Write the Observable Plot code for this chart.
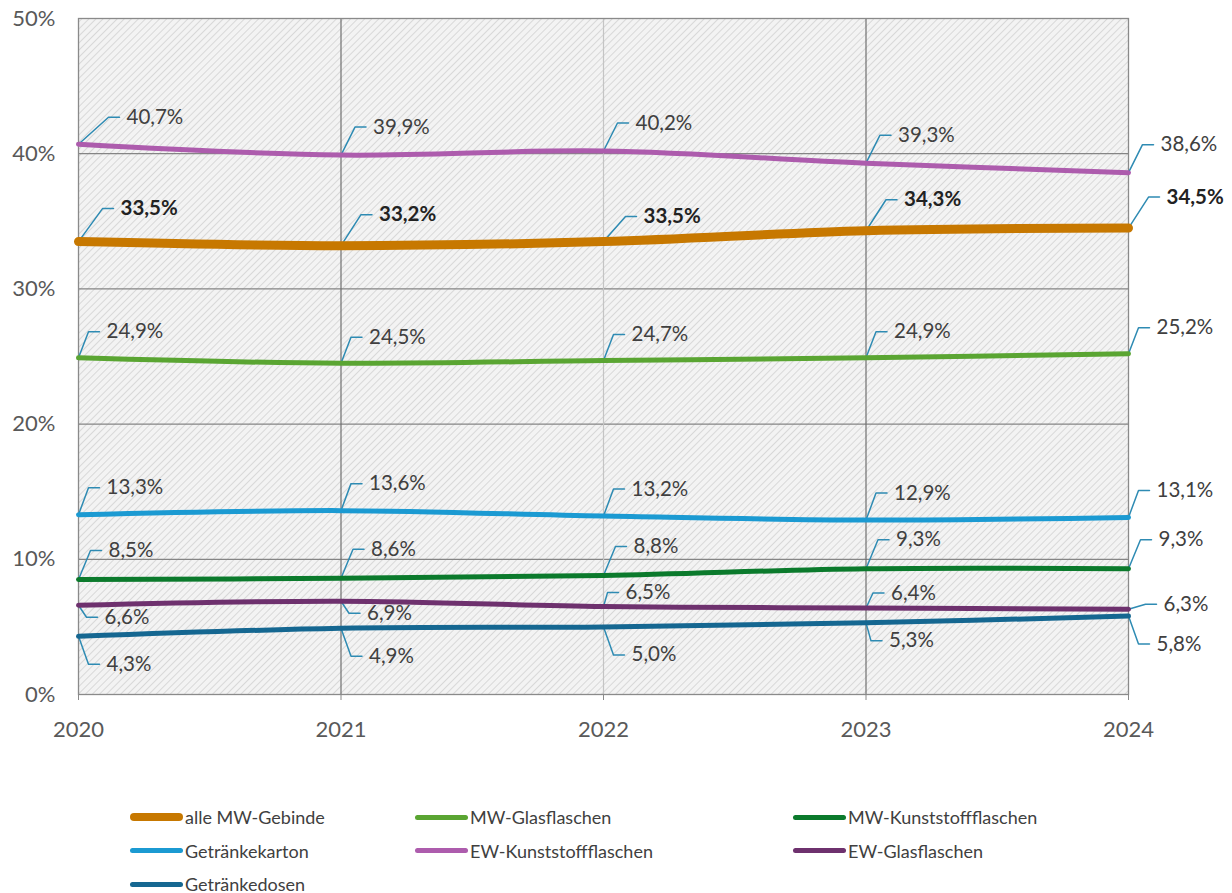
<!DOCTYPE html>
<html>
<head>
<meta charset="utf-8">
<script src="https://cdn.jsdelivr.net/npm/d3@7"></script>
<script src="https://cdn.jsdelivr.net/npm/@observablehq/plot@0.6"></script>
<style>
  body { margin: 0; background: #fff; font-family: Lato, sans-serif; }
  #wrap { position: relative; width: 1232px; height: 893px; }
  #legend { position: absolute; left: 0; top: 806px; width: 1232px; }
  .row { position: absolute; display: flex; align-items: center; font-size: 18px; color: #404040; }
  .sw { display: inline-block; width: 53px; border-radius: 4px; margin-right: 2px; }
</style>
</head>
<body>
<div id="wrap"><div id="chart"></div><div id="legend"></div></div>
<script>
const years = [2020, 2021, 2022, 2023, 2024];
const seriesNames = ["alle MW-Gebinde", "MW-Glasflaschen", "MW-Kunststoffflaschen", "Getränkekarton", "EW-Kunststoffflaschen", "EW-Glasflaschen", "Getränkedosen"];
const alleMW = [33.5, 33.2, 33.5, 34.3, 34.5];
const mwGlas = [24.9, 24.5, 24.7, 24.9, 25.2];
const mwKunststoff = [8.5, 8.6, 8.8, 9.3, 9.3];
const getraenkekarton = [13.3, 13.6, 13.2, 12.9, 13.1];
const ewKunststoff = [40.7, 39.9, 40.2, 39.3, 38.6];
const ewGlas = [6.6, 6.9, 6.5, 6.4, 6.3];
const getraenkedosen = [4.3, 4.9, 5.0, 5.3, 5.8];
const yTicks = [0, 10, 20, 30, 40, 50];

const seriesValues = [alleMW, mwGlas, mwKunststoff, getraenkekarton, ewKunststoff, ewGlas, getraenkedosen];
const colors = ["#C77800", "#5AA532", "#0B7A2C", "#1B9AD2", "#AD5CAD", "#6E316E", "#156791"];
const widths = [9, 5, 5, 5, 5, 5, 5];
const drawOrder = [4, 0, 1, 3, 2, 5, 6];

// label leader elbows in pixels (dx right, dy down)
const leaderDefault = [[20, -31], [10, -26], [12, -29], [10, -27], [14, -28], [8, 12], [10, 28]];
const leaderOverride = {
  "4|2020": [30, -27], "0|2020": [24, -33], "0|2022": [22, -25],
  "5|2022": [4, -14], "5|2023": [7, -15], "5|2024": [17, -5],
  "6|2023": [5, 18]
};

const W = 1232, H = 770, mL = 78, mR = 104, mT = 18, mB = 76;
const pxX = (W - mL - mR) / (years[years.length - 1] - years[0]);
const pxY = (H - mT - mB) / 50;

const rows = [];
seriesNames.forEach((s, i) => years.forEach((yr, j) => {
  const off = leaderOverride[i + "|" + yr] || leaderDefault[i];
  rows.push({series: s, si: i, year: yr, value: seriesValues[i][j], dx: off[0], dy: off[1]});
}));

const leaderPts = [];
rows.forEach((r, k) => {
  leaderPts.push({k, x: r.year, y: r.value});
  leaderPts.push({k, x: r.year + r.dx / pxX, y: r.value - r.dy / pxY});
  leaderPts.push({k, x: r.year + (r.dx + 11) / pxX, y: r.value - r.dy / pxY});
});

const fmt = v => v.toFixed(1).replace(".", ",") + "%";

const lineMarks = drawOrder.map(i => Plot.line(rows.filter(r => r.si === i), {
  x: "year", y: "value", stroke: colors[i], strokeWidth: widths[i], curve: "catmull-rom", strokeLinecap: "round"
}));

const labelOpts = {
  x: r => r.year + (r.dx + 18) / pxX, y: r => r.value - r.dy / pxY,
  text: r => fmt(r.value), textAnchor: "start", fontSize: 20.5
};

const chart = Plot.plot({
  width: W, height: H,
  marginLeft: mL, marginRight: mR, marginTop: mT, marginBottom: mB,
  style: {fontFamily: "Lato, sans-serif", fontSize: "22px", color: "#595959", background: "transparent", overflow: "visible"},
  x: {type: "linear", domain: [years[0], years[years.length - 1]]},
  y: {domain: [0, 50]},
  marks: [
    Plot.frame({fill: "url(#hatch)", stroke: "none"}),
    Plot.ruleY([10, 20, 30, 40], {stroke: "#858585", strokeWidth: 1.2}),
    Plot.ruleX(years.slice(1, -1), {stroke: d => d === 2022 ? "#c4c4c4" : "#707070", strokeWidth: 1.2}),
    Plot.frame({stroke: "#8a8a8a", strokeWidth: 1.3}),
    Plot.axisY({ticks: yTicks, tickFormat: d => d + "%", tickSize: 0, tickPadding: 23, label: null, fontSize: 22}),
    Plot.axisX({ticks: years, tickFormat: d => String(d), tickSize: 6, tickPadding: 21, label: null, stroke: "#8a8a8a", fontSize: 22}),
    Plot.line(leaderPts, {x: "x", y: "y", z: "k", stroke: "#2E8BB3", strokeWidth: 1.5}),
    ...lineMarks,
    Plot.text(rows.filter(r => r.si !== 0), {...labelOpts, fill: "#404040"}),
    Plot.text(rows.filter(r => r.si === 0), {...labelOpts, fill: "#222", fontWeight: "bold"})
  ]
});

const ns = "http://www.w3.org/2000/svg";
const defs = document.createElementNS(ns, "defs");
defs.innerHTML = '<pattern id="hatch" patternUnits="userSpaceOnUse" width="5" height="5" patternTransform="rotate(45)">' +
  '<rect width="5" height="5" fill="#f3f3f3"/><line x1="0" y1="0" x2="0" y2="5" stroke="#d2d2d2" stroke-width="1.6"/></pattern>';
chart.insertBefore(defs, chart.firstChild);
document.getElementById("chart").appendChild(chart);

// legend
const legendOrder = [0, 1, 2, 3, 4, 5, 6];
const colX = [130, 415, 793];
const legend = document.getElementById("legend");
legendOrder.forEach((i, k) => {
  const row = Math.floor(k / 3), col = k % 3;
  const div = document.createElement("div");
  div.className = "row";
  div.style.left = colX[col] + "px";
  div.style.top = (row * 33.5) + "px";
  const sw = document.createElement("span");
  sw.className = "sw";
  sw.style.background = colors[i];
  sw.style.height = (i === 0 ? 8 : 5) + "px";
  const t = document.createElement("span");
  t.textContent = seriesNames[i];
  div.appendChild(sw); div.appendChild(t);
  legend.appendChild(div);
});
</script>
</body>
</html>
